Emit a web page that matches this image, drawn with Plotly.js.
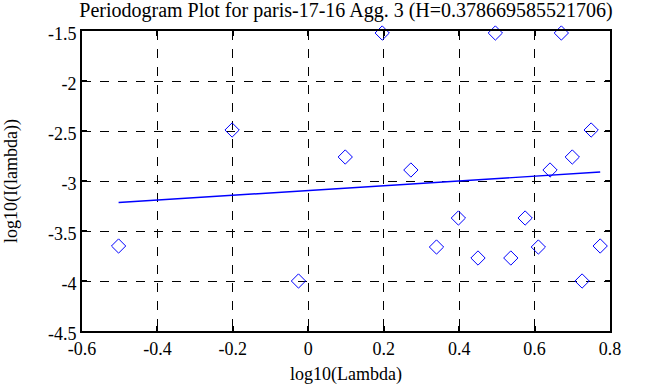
<!DOCTYPE html>
<html>
<head>
<meta charset="utf-8">
<script src="https://cdn.plot.ly/plotly-3.0.1.min.js"></script>
<style>html,body{margin:0;padding:0;background:#fff;}#chart{width:658px;height:387px;}</style>
</head>
<body>
<div id="chart"></div>
<script>
// Periodogram points: log10(lambda) vs log10(I(lambda))
const logLambda = [-0.503, -0.202, -0.026, 0.098, 0.196, 0.272, 0.340, 0.398, 0.450, 0.496, 0.537, 0.575, 0.610, 0.641, 0.671, 0.700, 0.726, 0.750, 0.774];
const logI      = [-3.65, -2.49, -4.00, -2.76, -1.52, -2.89, -3.66, -3.37, -3.77, -1.52, -3.77, -3.37, -3.66, -2.89, -1.52, -2.76, -4.00, -2.49, -3.65];
// Least-squares fit line endpoints
const fitX = [-0.503, 0.774];
const fitY = [-3.215, -2.91];

const titleText = 'Periodogram Plot for paris-17-16 Agg. 3 (H=0.378669585521706)';
const xTitle = 'log10(Lambda)';
const yTitle = 'log10(I(lambda))';
const xTicks = [-0.6, -0.4, -0.2, 0, 0.2, 0.4, 0.6, 0.8];
const xTickText = ['-0.6', '-0.4', '-0.2', '0', '0.2', '0.4', '0.6', '0.8'];
const yTicks = [-4.5, -4, -3.5, -3, -2.5, -2, -1.5];
const yTickText = ['-4.5', '-4', '-3.5', '-3', '-2.5', '-2', '-1.5'];

const serif = '"Liberation Serif", "Times New Roman", serif';

const traces = [
  {
    x: logLambda, y: logI, type: 'scatter', mode: 'markers',
    marker: {symbol: 'diamond-open', size: 11, color: '#0000ff', line: {width: 1, color: '#0000ff'}},
    hoverinfo: 'skip', cliponaxis: false
  },
  {
    x: fitX, y: fitY, type: 'scatter', mode: 'lines',
    line: {color: '#0000ff', width: 1.4},
    hoverinfo: 'skip'
  }
];

function axisCommon() {
  return {
    showline: true, linecolor: '#000', linewidth: 2, mirror: 'ticks',
    ticks: 'inside', ticklen: 5, tickwidth: 2, tickcolor: '#000',
    showgrid: true, gridcolor: '#000', gridwidth: 1, griddash: 'dash',
    zeroline: false,
    tickfont: {family: serif, size: 18, color: '#000'}
  };
}

const layout = {
  width: 658, height: 387,
  margin: {l: 82, r: 48, t: 31, b: 56},
  paper_bgcolor: '#fff', plot_bgcolor: '#fff',
  font: {family: serif, size: 18, color: '#000'},
  showlegend: false,
  title: {text: titleText, font: {family: serif, size: 20, color: '#000'},
          x: 0.5, xref: 'paper', y: 0.975, yref: 'container', yanchor: 'middle'},
  xaxis: Object.assign(axisCommon(), {
    range: [-0.6, 0.8], tickvals: xTicks, ticktext: xTickText,
    title: {text: xTitle, font: {family: serif, size: 18, color: '#000'}, standoff: 10}
  }),
  yaxis: Object.assign(axisCommon(), {
    range: [-4.5, -1.5], tickvals: yTicks, ticktext: yTickText, ticklabelshift: 3,
    title: {text: yTitle, font: {family: serif, size: 18, color: '#000'}, standoff: 26}
  })
};

Plotly.newPlot('chart', traces, layout, {staticPlot: true, displayModeBar: false});
</script>
</body>
</html>
